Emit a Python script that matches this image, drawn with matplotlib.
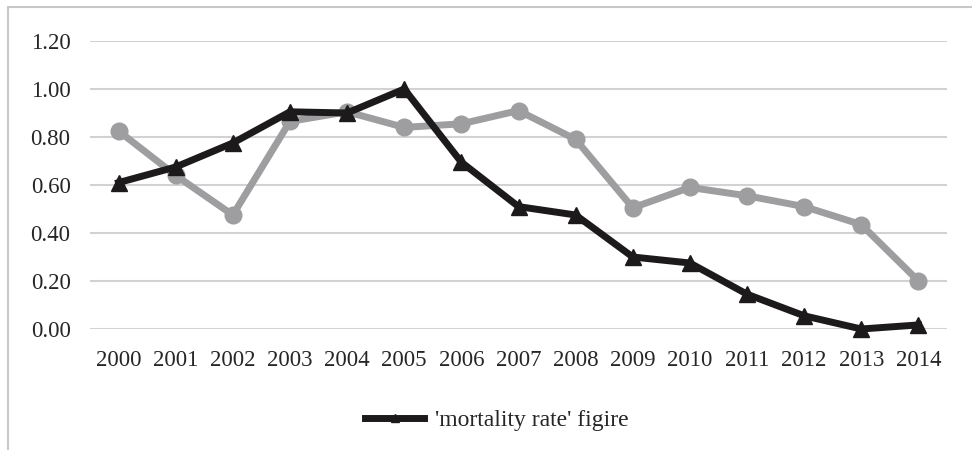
# -*- coding: utf-8 -*-
"""Mortality rate figure - two series line chart"""
import numpy as np
import matplotlib
matplotlib.use('Agg')
import matplotlib.pyplot as plt
from matplotlib.patches import Rectangle

#%% data
years = ['2000', '2001', '2002', '2003', '2004', '2005', '2006', '2007',
         '2008', '2009', '2010', '2011', '2012', '2013', '2014']
mortality = [0.61, 0.675, 0.775, 0.905, 0.90, 1.00, 0.695, 0.51,
             0.475, 0.30, 0.275, 0.145, 0.055, 0.0, 0.017]
second = [0.825, 0.64, 0.475, 0.865, 0.905, 0.84, 0.855, 0.91,
          0.79, 0.505, 0.59, 0.555, 0.51, 0.435, 0.20]
yticks = [0.0, 0.2, 0.4, 0.6, 0.8, 1.0, 1.2]
legendLabel = "'mortality rate' figire"

plt.rcParams['font.family'] = ['Liberation Serif', 'DejaVu Serif']

W, H = 972, 450
fig = plt.figure(figsize=(W/100., H/100.), dpi=100)
ax = fig.add_axes([90./W, 1-329./H, (947.-90.)/W, (329.-41.)/H])

x = np.arange(len(years))
grey, = ax.plot(x, second, '-o', color='#9e9ea0', lw=5, ms=12, clip_on=False, zorder=3)
black, = ax.plot(x, mortality, '-^', color='#1c1a1b', lw=5, ms=12, clip_on=False, zorder=4)

ax.set_xlim(-0.5, len(years)-0.5)
ax.set_ylim(0, 1.2)
ax.set_yticks(yticks)
ax.set_yticklabels(['%.2f' % v for v in yticks])
ax.set_xticks(x)
ax.set_xticklabels(years)
ax.yaxis.grid(True, color='#d2d2d2', lw=1.5)
ax.set_axisbelow(True)
for s in ax.spines.values():
    s.set_visible(False)
ax.tick_params(axis='both', length=0, labelsize=16.5, colors='#262626')
ax.tick_params(axis='y', pad=14)
ax.tick_params(axis='x', pad=15)

# legend only shows the black series
ax.legend(handles=[black], labels=[legendLabel], loc='center',
          bbox_to_anchor=(497./W, 1-420./H), bbox_transform=fig.transFigure,
          frameon=False, fontsize=17, handlelength=2.5, handletextpad=0.45,
          markerscale=0.5, labelcolor='#262626')

# outer frame (only top and left visible in the crop)
fig.patches.append(Rectangle((8./W, -0.1), 1.2, 1.1-7./H, transform=fig.transFigure,
                             fill=False, ec='#c8c8c8', lw=1.5))

fig.savefig('out.png', dpi=100)
